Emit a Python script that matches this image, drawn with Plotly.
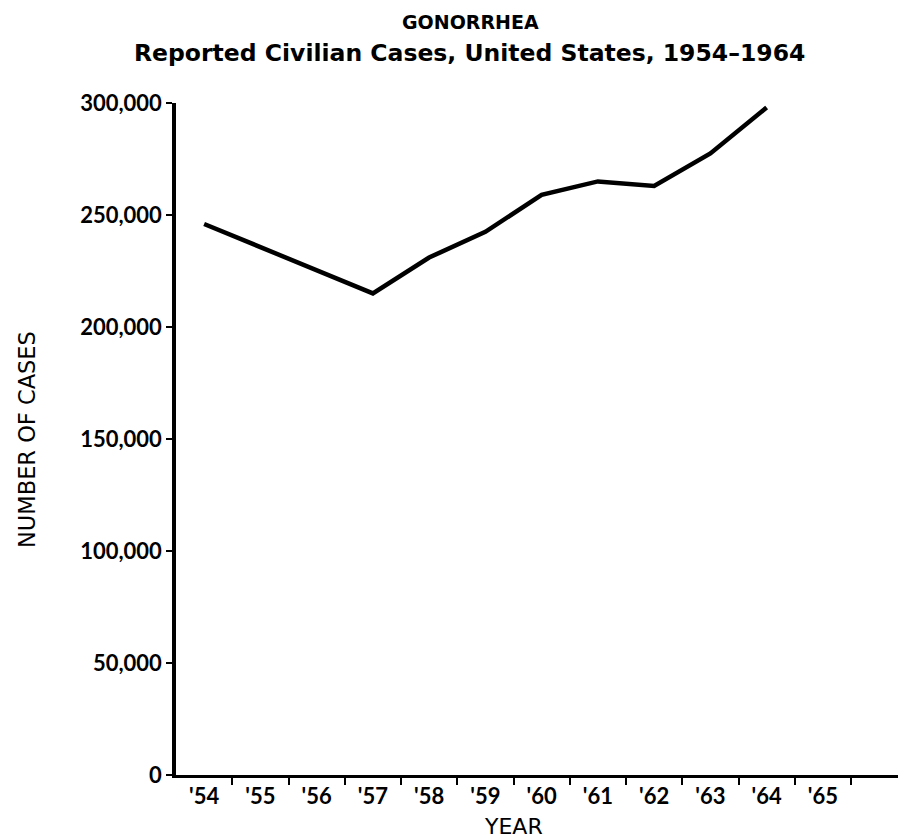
import plotly.graph_objects as go

# Reported civilian gonorrhea cases (years 1955 and 1956 are not plotted)
years = [1954, 1957, 1958, 1959, 1960, 1961, 1962, 1963, 1964]
cases = [246000, 215000, 231000, 242500, 259000, 265000, 263000, 277500, 298000]

# Year labels shown along the horizontal axis
label_years = list(range(1954, 1966))
year_labels = ["'" + str(y)[2:] for y in label_years]

y_ticks = [0, 50000, 100000, 150000, 200000, 250000, 300000]
y_tick_labels = ["0", "50,000", "100,000", "150,000", "200,000", "250,000", "300,000"]

W, H = 898, 838
L, R, T, B = 176, 0, 103, 63
FONT = "Lato"
TITLE_FONT = "DejaVu Sans"


def px_x(x):
    return (x - L) / (W - L - R)


def px_y(y):
    return (H - B - y) / (H - T - B)


fig = go.Figure()
fig.add_trace(go.Scatter(
    x=years, y=cases, mode="lines",
    line=dict(color="black", width=4.5),
    hoverinfo="skip", showlegend=False,
))

fig.update_layout(
    width=W, height=H,
    margin=dict(l=L, r=R, t=T, b=B, pad=0),
    paper_bgcolor="white", plot_bgcolor="white",
    font=dict(family=FONT, color="black"),
    xaxis=dict(
        range=[1953.5, 1953.5 + (W - L - R) / 56.25],
        showgrid=False, zeroline=False,
        showline=True, linecolor="black", linewidth=3,
        tickmode="array", tickvals=label_years, ticktext=year_labels,
        ticks="", ticklen=0, ticklabelstandoff=0,
        tickfont=dict(family=FONT, size=22, color="black", weight="bold"),
        minor=dict(tickmode="array",
                   tickvals=[y + 0.5 for y in label_years],
                   ticks="outside", ticklen=7, tickwidth=2, tickcolor="black"),
    ),
    yaxis=dict(
        range=[0, 300000],
        showgrid=False, zeroline=False,
        showline=True, linecolor="black", linewidth=3.5,
        tickmode="array", tickvals=y_ticks, ticktext=y_tick_labels,
        ticks="outside", ticklen=6, tickwidth=2, tickcolor="black",
        tickfont=dict(family=FONT, size=22, color="black", weight="bold"),
    ),
    annotations=[
        dict(text="GONORRHEA", x=px_x(470), y=px_y(22), xref="paper", yref="paper",
             showarrow=False, xanchor="center", yanchor="middle",
             font=dict(family=TITLE_FONT, size=19, color="black", weight="bold")),
        dict(text="Reported Civilian Cases, United States, 1954\u20131964",
             x=px_x(469), y=px_y(53), xref="paper", yref="paper",
             showarrow=False, xanchor="center", yanchor="middle",
             font=dict(family=TITLE_FONT, size=23.5, color="black", weight="bold")),
        dict(text="NUMBER OF CASES", x=px_x(27), y=px_y(440), xref="paper", yref="paper",
             showarrow=False, xanchor="center", yanchor="middle", textangle=-90,
             font=dict(family=TITLE_FONT, size=22.5, color="black")),
        dict(text="YEAR", x=px_x(513), y=px_y(826), xref="paper", yref="paper",
             showarrow=False, xanchor="center", yanchor="middle",
             font=dict(family=TITLE_FONT, size=22, color="black")),
    ],
)

fig.write_html("out.html")
